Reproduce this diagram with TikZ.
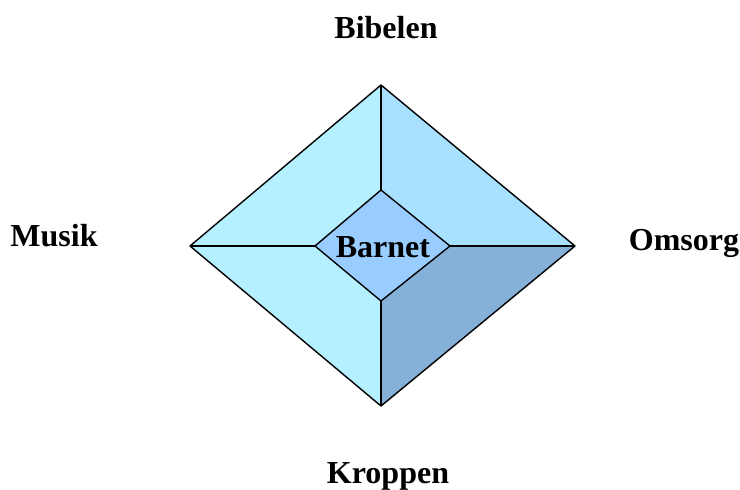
\documentclass[tikz,border=0pt]{standalone}
\usepackage{fontspec}
\setmainfont{Liberation Serif}
\definecolor{qlight}{HTML}{B4F0FF}
\definecolor{qtr}{HTML}{A8E0FF}
\definecolor{qdark}{HTML}{85B0D8}
\definecolor{qinner}{HTML}{99CCFF}
\begin{document}
\begin{tikzpicture}[x=1pt,y=-1pt,
  lbl/.style={font=\fontsize{32}{38}\selectfont\bfseries, anchor=base, inner sep=0pt},
  edge/.style={draw=black, line width=1.4pt, line join=round}]
\useasboundingbox[fill=white] (0,0) rectangle (740,490);
\coordinate (OT) at (381,85);
\coordinate (OL) at (190,246);
\coordinate (OR) at (575,246);
\coordinate (OB) at (381,406);
\coordinate (IT) at (381,190);
\coordinate (IL) at (315,246);
\coordinate (IR) at (450,246);
\coordinate (IB) at (381,301);
\fill[qlight] (OT) -- (IT) -- (IL) -- (OL) -- cycle;
\fill[qlight] (OL) -- (IL) -- (IB) -- (OB) -- cycle;
\fill[qtr] (OT) -- (OR) -- (IR) -- (IT) -- cycle;
\fill[qdark] (OR) -- (OB) -- (IB) -- (IR) -- cycle;
\fill[qinner] (IT) -- (IR) -- (IB) -- (IL) -- cycle;
\draw[edge] (OT) -- (OR) -- (OB) -- (OL) -- cycle;
\draw[edge] (IT) -- (IR) -- (IB) -- (IL) -- cycle;
\draw[edge] (OT) -- (IT);
\draw[edge] (OL) -- (IL);
\draw[edge] (OR) -- (IR);
\draw[edge] (OB) -- (IB);
\node[lbl] (barnet) at (383,257) {Barnet};
\node[lbl] (bibelen) at (386,38) {Bibelen};
\node[lbl] (musik) at (54,246) {Musik};
\node[lbl] (omsorg) at (684,250) {Omsorg};
\node[lbl] (kroppen) at (388,483) {Kroppen};
\end{tikzpicture}
\end{document}
